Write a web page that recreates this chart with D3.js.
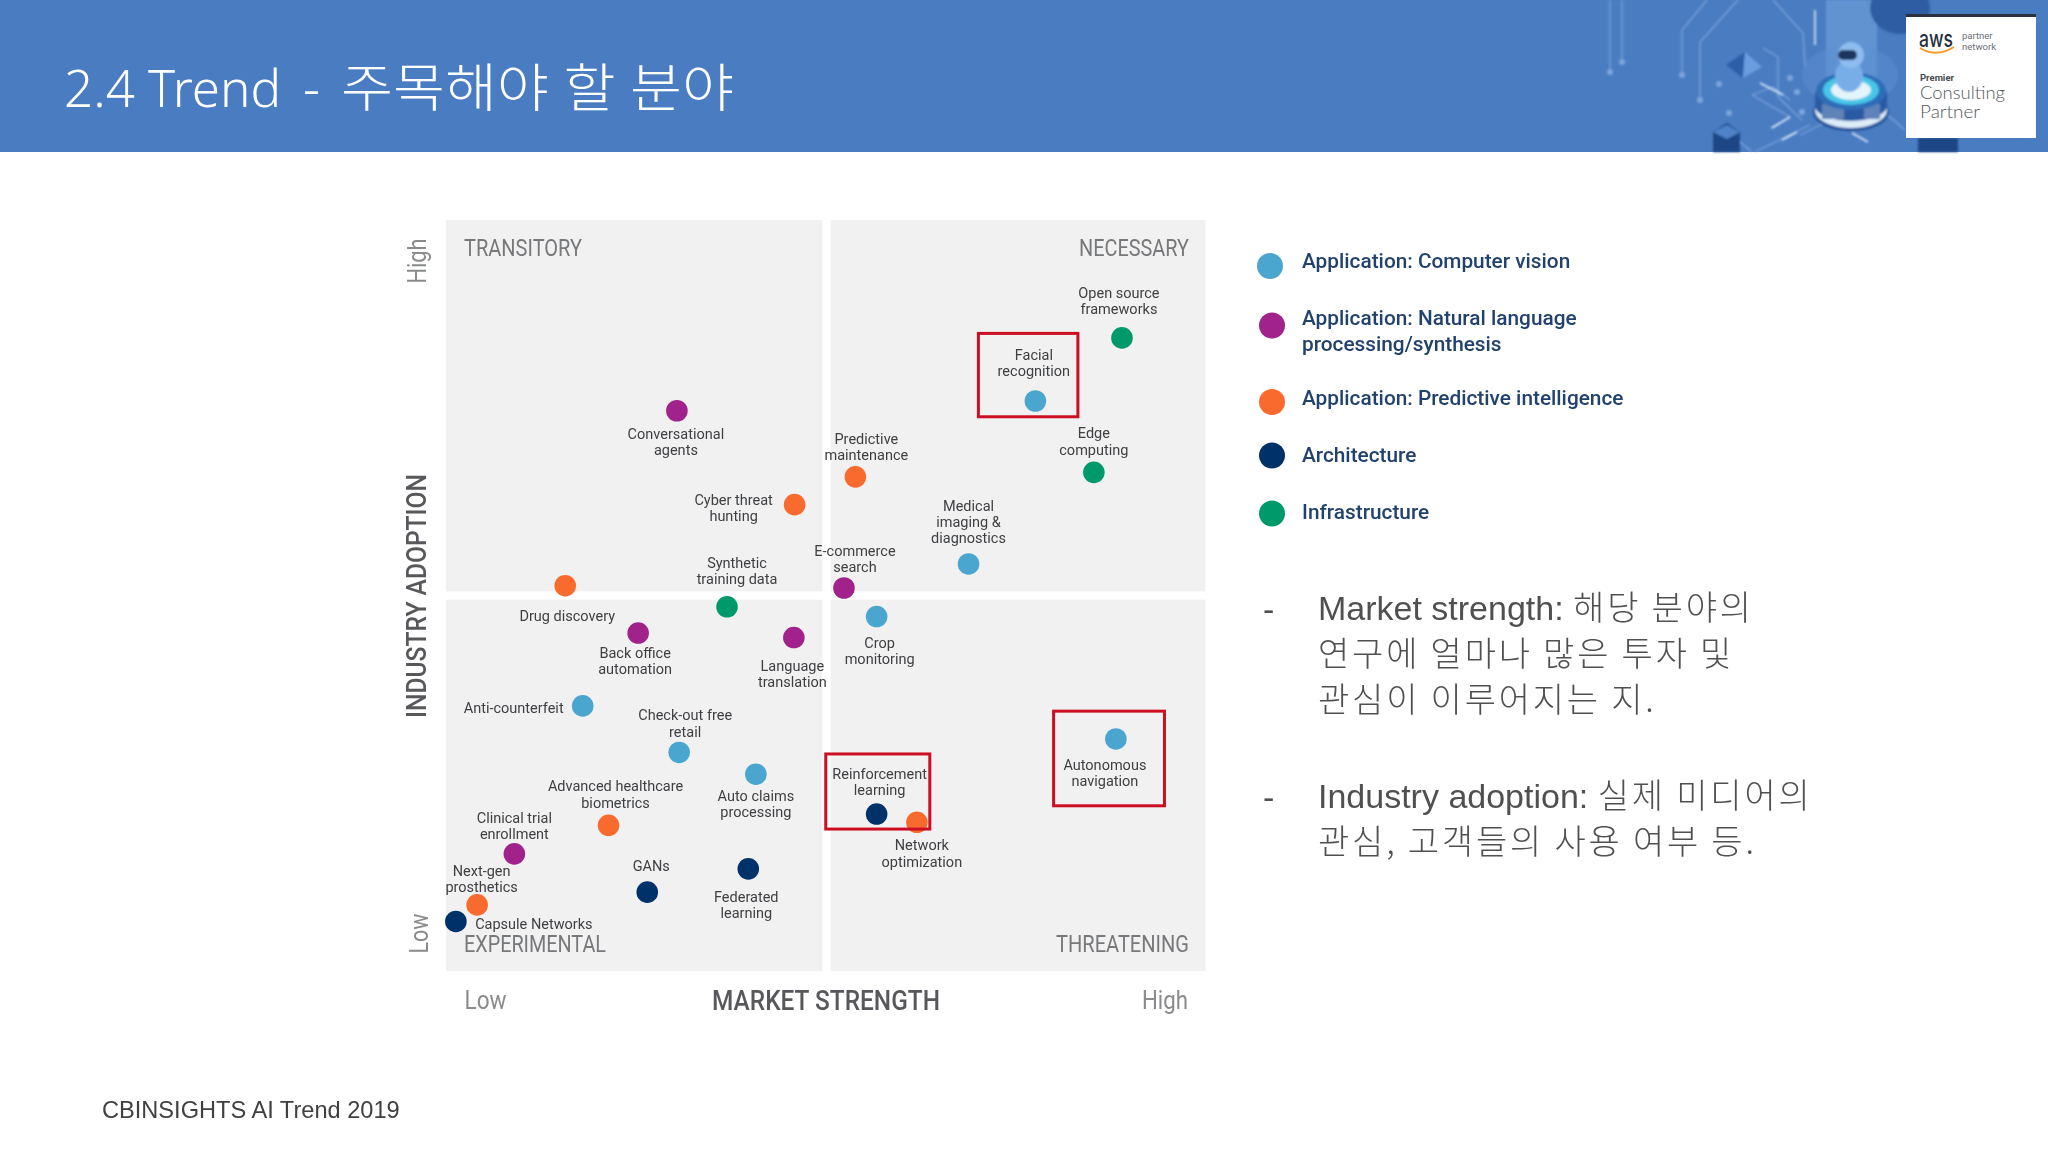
<!DOCTYPE html>
<html>
<head>
<meta charset="utf-8">
<script src="https://cdn.jsdelivr.net/npm/d3@7/dist/d3.min.js"></script>
<style>
    html, body { margin: 0; padding: 0; background: #fff; }
    svg { display: block; }
    text { font-family: Roboto, sans-serif; }
    .slide-text, .slide-text text { font-family: "Liberation Sans", "Noto Sans CJK KR", sans-serif; }
</style>
</head>
<body>
<div class="svg-container"></div>
<script>
// data (both axes run 0-100)
const techNames = ['Open source frameworks', 'Facial recognition', 'Conversational agents', 'Predictive maintenance', 'Edge computing',
    'Cyber threat hunting', 'Medical imaging & diagnostics', 'Drug discovery', 'E-commerce search', 'Synthetic training data',
    'Crop monitoring', 'Back office automation', 'Language translation', 'Anti-counterfeit', 'Check-out free retail',
    'Auto claims processing', 'Autonomous navigation', 'Reinforcement learning', 'Network optimization', 'Advanced healthcare biometrics',
    'Clinical trial enrollment', 'Federated learning', 'GANs', 'Next-gen prosthetics', 'Capsule Networks'];
const marketStrength = [89.0, 77.6, 30.4, 53.9, 85.3, 45.9, 68.8, 15.7, 52.4, 37.0, 56.7, 25.3, 45.8, 18.0, 30.7, 40.8, 88.2, 56.7, 62.0, 21.4, 9.0, 39.8, 26.5, 4.1, 1.3];
const industryAdoption = [84.3, 75.9, 74.6, 65.8, 66.4, 62.1, 54.2, 51.3, 51.0, 48.5, 47.2, 45.0, 44.4, 35.3, 29.1, 26.2, 30.9, 20.9, 19.8, 19.4, 15.6, 13.6, 10.5, 8.8, 6.6];
const techCategory = [4, 0, 1, 2, 4, 2, 0, 2, 1, 4, 0, 1, 1, 0, 0, 0, 0, 3, 2, 2, 1, 3, 3, 2, 3];

const categories = ['Application: Computer vision', 'Application: Natural language|processing/synthesis', 'Application: Predictive intelligence', 'Architecture', 'Infrastructure'];
const categoryColors = ['#4ba6cf', '#a0228a', '#f96a2f', '#04306a', '#059a6b'];

const quadrants = ['TRANSITORY', 'NECESSARY', 'EXPERIMENTAL', 'THREATENING'];
const axisEnds = ['Low', 'High'];
// red boxes [x0, x1, y0, y1] in data units
const highlightBoxes = [[70.1, 83.2, 84.9, 73.8], [50.0, 63.7, 28.9, 18.9], [80.0, 94.6, 34.6, 22.0]];

const notes = [
    ['Market strength: 해당 분야의', '연구에 얼마나 많은 투자 및', '관심이 이루어지는 지.'],
    ['Industry adoption: 실제 미디어의', '관심, 고객들의 사용 여부 등.']
];

// layout only: line breaks and label offsets from the dot, px
const labelLines = [['Open source', 'frameworks'], ['Facial', 'recognition'], ['Conversational', 'agents'], ['Predictive', 'maintenance'], ['Edge', 'computing'],
    ['Cyber threat', 'hunting'], ['Medical', 'imaging &', 'diagnostics'], ['Drug discovery'], ['E-commerce', 'search'], ['Synthetic', 'training data'],
    ['Crop', 'monitoring'], ['Back office', 'automation'], ['Language', 'translation'], ['Anti-counterfeit'], ['Check-out free', 'retail'],
    ['Auto claims', 'processing'], ['Autonomous', 'navigation'], ['Reinforcement', 'learning'], ['Network', 'optimization'], ['Advanced healthcare', 'biometrics'],
    ['Clinical trial', 'enrollment'], ['Federated', 'learning'], ['GANs'], ['Next-gen', 'prosthetics'], ['Capsule Networks']];
const labelOffsets = [[-3, -45], [-1.5, -46], [-1, 23], [11, -38], [0, -39], [-61, -5], [0, -58], [2, 30], [11, -37], [10, -44],
    [3, 26], [-3, 20], [-1.5, 28], [-69, 2], [6, -37], [0, 22], [-11, 26], [3, -40], [5, 23], [7, -39], [0, -36], [-2, 28], [4, -26], [4.5, -34], [78, 3]];

const viewBox_width = 2048,
    viewBox_height = 1152,
    plot = {left: 446, right: 1205.5, top: 220, bottom: 971};

const svg = d3.select('.svg-container').append('svg')
    .attr('width', viewBox_width)
    .attr('height', viewBox_height)
    .attr('viewBox', `0 0 ${viewBox_width} ${viewBox_height}`);

const defs = svg.append('defs');
defs.append('filter').attr('id', 'soft').append('feGaussianBlur').attr('stdDeviation', 0.45);
defs.append('filter').attr('id', 'softer').append('feGaussianBlur').attr('stdDeviation', 0.9);

const xScale = d3.scaleLinear().domain([0, 100]).range([plot.left, plot.right]),
    yScale = d3.scaleLinear().domain([0, 100]).range([plot.bottom, plot.top]);

// squeeze a text to the measured width, the original is a stretched bitmap
function fit(sel, length) {
    sel.attr('textLength', length).attr('lengthAdjust', 'spacingAndGlyphs');
}

drawHeader();

const g = svg.append('g').attr('class', 'figure').attr('filter', 'url(#soft)');

// quadrant panels, white cross in the middle
const gap = 0.55;
const panels = [[0, 50 - gap + 0.1, 50 + gap, 100], [50 + gap + 0.1, 100, 50 + gap, 100], [0, 50 - gap + 0.1, 0, 50 - gap], [50 + gap + 0.1, 100, 0, 50 - gap]];
g.selectAll('.panel').data(panels).enter().append('rect')
    .attr('class', 'panel')
    .attr('x', d => xScale(d[0]))
    .attr('y', d => yScale(d[3]))
    .attr('width', d => xScale(d[1]) - xScale(d[0]))
    .attr('height', d => yScale(d[2]) - yScale(d[3]))
    .attr('fill', '#f1f1f2');

// quadrant names
const quadrantPos = [[464, 256, 'start', 118], [1189, 256, 'end', 110], [464, 952, 'start', 142], [1189, 952, 'end', 133]];
g.selectAll('.quadrant').data(quadrants).enter().append('text')
    .attr('class', 'quadrant')
    .text(d => d)
    .attr('x', (d, i) => quadrantPos[i][0])
    .attr('y', (d, i) => quadrantPos[i][1])
    .attr('text-anchor', (d, i) => quadrantPos[i][2])
    .attr('fill', '#77787a')
    .style('font-size', '24px')
    .each(function (d, i) { fit(d3.select(this), quadrantPos[i][3]); });

// axes: only the two ends carry a tick label
const xAxis = g.append('g')
    .attr('class', 'x-axis')
    .attr('transform', `translate(0,${plot.bottom + 38})`)
    .call(d3.axisBottom(xScale).tickValues([0, 100]).tickSize(0).tickFormat((d, i) => axisEnds[i]));
xAxis.select('.domain').remove();
xAxis.selectAll('.tick text')
    .attr('y', 0).attr('dy', 0)
    .attr('x', (d, i) => i === 0 ? 18 : -18)
    .attr('text-anchor', (d, i) => i === 0 ? 'start' : 'end')
    .attr('fill', '#8a8b8d')
    .style('font-family', 'Roboto').style('font-size', '26px')
    .each(function (d, i) { fit(d3.select(this), i === 0 ? 42 : 46); });

const yAxis = g.append('g')
    .attr('class', 'y-axis')
    .attr('transform', `translate(${plot.left - 18},0)`)
    .call(d3.axisLeft(yScale).tickValues([0, 100]).tickSize(0).tickFormat((d, i) => axisEnds[i]));
yAxis.select('.domain').remove();
yAxis.selectAll('.tick text')
    .attr('x', 0).attr('y', 0).attr('dy', 0)
    .attr('transform', (d, i) => `translate(${i === 0 ? 0 : -2.5},0) rotate(-90) translate(${i === 0 ? 18 : -18},0)`)
    .attr('text-anchor', (d, i) => i === 0 ? 'start' : 'end')
    .attr('fill', '#8a8b8d')
    .style('font-family', 'Roboto').style('font-size', '26px')
    .each(function (d, i) { fit(d3.select(this), i === 0 ? 40 : 45); });

g.append('text')
    .text('MARKET STRENGTH')
    .attr('x', 826).attr('y', 1010)
    .attr('text-anchor', 'middle')
    .attr('fill', '#58595b')
    .style('font-size', '27px').style('font-weight', 500)
    .call(fit, 228);

g.append('text')
    .text('INDUSTRY ADOPTION')
    .attr('transform', 'translate(426,596) rotate(-90)')
    .attr('text-anchor', 'middle')
    .attr('fill', '#58595b')
    .style('font-size', '27px').style('font-weight', 500)
    .call(fit, 244);

// tech labels
const points = techNames.map((name, i) => ({name: name, x: marketStrength[i], y: industryAdoption[i], cat: techCategory[i], lines: labelLines[i], off: labelOffsets[i]}));

const labels = g.selectAll('.text-label').data(points).enter().append('text')
    .attr('class', 'text-label')
    .attr('text-anchor', 'middle')
    .attr('fill', '#3f4042')
    .style('font-size', '14.5px');
labels.selectAll('tspan').data(d => d.lines.map((line, k) => ({line: line, k: k, p: d}))).enter().append('tspan')
    .text(d => d.line)
    .attr('x', d => xScale(d.p.x) + d.p.off[0])
    .attr('y', d => yScale(d.p.y) + d.p.off[1] + 16.2 * d.k + 5);

// dots
g.selectAll('.dot').data(points).enter().append('circle')
    .attr('class', 'dot')
    .attr('cx', d => xScale(d.x))
    .attr('cy', d => yScale(d.y))
    .attr('r', 10.8)
    .attr('fill', d => categoryColors[d.cat]);

// red boxes
g.selectAll('.highlight').data(highlightBoxes).enter().append('rect')
    .attr('class', 'highlight')
    .attr('x', d => xScale(d[0]))
    .attr('y', d => yScale(d[2]))
    .attr('width', d => xScale(d[1]) - xScale(d[0]))
    .attr('height', d => yScale(d[3]) - yScale(d[2]))
    .attr('fill', 'none')
    .attr('stroke', '#cc1122')
    .attr('stroke-width', 3);

// legend
const legendY = [[266, 261], [325.5, 318], [402, 398], [455.5, 455], [513.5, 512]];
const legend = g.selectAll('.legend').data(categories).enter().append('g').attr('class', 'legend');
legend.append('circle')
    .attr('cx', (d, i) => i === 0 ? 1270 : 1272)
    .attr('cy', (d, i) => legendY[i][0])
    .attr('r', 13)
    .attr('fill', (d, i) => categoryColors[i]);
legend.append('text')
    .attr('fill', '#23426e')
    .style('font-size', '20.8px').style('font-weight', 500)
    .each(function (d, i) {
        const t = d3.select(this);
        d.split('|').forEach((line, k) => {
            t.append('tspan').text(line).attr('x', 1302).attr('y', legendY[i][1] + 7 + 26 * k);
        });
    });

// right hand notes, the hangul runs a bit wider and thinner than the latin
const noteTop = [619.5, 807.5];
const notesG = svg.append('g').attr('class', 'slide-text').attr('fill', '#505050');
notes.forEach((lines, n) => {
    notesG.append('text').text('-').attr('x', 1263).attr('y', noteTop[n] + 1).style('font-size', '34px');
    lines.forEach((line, k) => {
        const split = line.search(/[\uAC00-\uD7A3]/);
        const t = notesG.append('text').attr('x', 1318).attr('y', noteTop[n] + 46 * k).style('font-size', '34px');
        t.append('tspan').text(line.slice(0, split));
        t.append('tspan').text(line.slice(split))
            .style('font-family', '"Noto Sans CJK KR"')
            .style('font-weight', 300)
            .style('letter-spacing', '2.8px');
    });
});

notesG.append('text')
    .text('CBINSIGHTS AI Trend 2019')
    .attr('x', 102).attr('y', 1118)
    .attr('fill', '#404040')
    .style('font-size', '23.6px');

// header band, robot artwork and partner badge
function drawHeader() {
    const h = svg.append('g').attr('class', 'header');
    h.append('rect').attr('width', viewBox_width).attr('height', 152).attr('fill', '#4a7cc2');

    const titleParts = [['2.4 Trend', 64, 217], ['-', 303, 17], ['주목해야 할 분야', 341, 393]];
    h.selectAll('.title').data(titleParts).enter().append('text')
        .attr('class', 'title')
        .text(d => d[0])
        .attr('x', d => d[1]).attr('y', 107)
        .attr('fill', '#fff')
        .style('font-family', '"Noto Sans", "Noto Sans CJK KR", sans-serif')
        .style('font-weight', 300)
        .style('font-size', '52px')
        .each(function (d) { fit(d3.select(this), d[2]); });

    const art = h.append('g').attr('filter', 'url(#softer)');

    // circuit traces
    const traces = ['M1707,0 L1682,30 L1682,75', 'M1738,0 L1700,42 L1700,100', 'M1773,0 L1803,33 L1805,67', 'M1610,0 L1610,70', 'M1622,0 L1622,60',
        'M1763,48 L1778,57 L1778,97 L1802,120', 'M1752,95 L1773,87 L1790,100', 'M1752,95 L1790,117 L1770,128', 'M1740,142 L1752,152', 'M1755,152 L1810,125', 'M1800,135 L1870,100 L1905,130'];
    art.selectAll('.trace').data(traces).enter().append('path')
        .attr('class', 'trace')
        .attr('d', d => d)
        .attr('fill', 'none')
        .attr('stroke', '#8fb3e4')
        .attr('stroke-opacity', 0.7)
        .attr('stroke-width', 1.3);
    art.selectAll('.node').data([[1610, 72], [1622, 62], [1682, 75], [1700, 100], [1719, 84], [1729, 113], [1802, 112], [1790, 78], [1797, 92]]).enter().append('circle')
        .attr('class', 'node')
        .attr('cx', d => d[0]).attr('cy', d => d[1]).attr('r', 3)
        .attr('fill', '#7ea5dc');
    const streaks = ['M1760,83 L1783,95', 'M1772,128 L1790,117', 'M1782,140 L1797,132', 'M1852,133 L1868,142', 'M1815,10 L1815,45'];
    art.selectAll('.streak').data(streaks).enter().append('path')
        .attr('class', 'streak')
        .attr('d', d => d)
        .attr('stroke', '#dbe9fa')
        .attr('stroke-width', 1.6);

    // light column behind robot, disk top right
    art.append('rect').attr('x', 1826).attr('y', 0).attr('width', 51).attr('height', 80).attr('fill', '#7aaae2').attr('opacity', 0.5);
    art.append('ellipse').attr('cx', 1900).attr('cy', 8).attr('rx', 30).attr('ry', 26).attr('fill', '#2f5da3');
    art.append('ellipse').attr('cx', 1850).attr('cy', 75).attr('rx', 48).attr('ry', 30).attr('fill', '#5c90d4').attr('opacity', 0.5);

    // prism
    art.append('path').attr('d', 'M1726,65 L1745,52 L1743,78 Z').attr('fill', '#2c5fa8');
    art.append('path').attr('d', 'M1745,52 L1762,67 L1743,78 Z').attr('fill', '#6b9de0');

    // servers at the bottom
    art.append('path').attr('d', 'M1713,132 L1727,123 L1740,132 L1740,152 L1713,152 Z').attr('fill', '#1f4684');
    art.append('path').attr('d', 'M1713,132 L1727,125 L1740,132 L1727,139 Z').attr('fill', '#4f82c8');
    art.append('rect').attr('x', 1918).attr('y', 138).attr('width', 40).attr('height', 14).attr('fill', '#1f4684');

    // robot on platform
    art.append('ellipse').attr('cx', 1851).attr('cy', 112).attr('rx', 38).attr('ry', 19).attr('fill', '#1f4f96');
    art.append('ellipse').attr('cx', 1851).attr('cy', 110).attr('rx', 36).attr('ry', 18).attr('fill', '#dcedf8');
    art.append('path').attr('d', 'M1815,92 L1887,92 L1887,106 A36,15 0 0 1 1815,106 Z').attr('fill', '#2a5aa4');
    art.append('rect').attr('x', 1822).attr('y', 104).attr('width', 22).attr('height', 15).attr('fill', '#5f83b8');
    art.append('rect').attr('x', 1864).attr('y', 104).attr('width', 16).attr('height', 15).attr('fill', '#5f83b8');
    art.append('ellipse').attr('cx', 1851).attr('cy', 91).attr('rx', 35).attr('ry', 19).attr('fill', '#2f6db8');
    art.append('ellipse').attr('cx', 1851).attr('cy', 90).attr('rx', 28).attr('ry', 15).attr('fill', '#46c6e8');
    art.append('ellipse').attr('cx', 1851).attr('cy', 90).attr('rx', 20).attr('ry', 10).attr('fill', '#e4f4fb');
    art.append('ellipse').attr('cx', 1849).attr('cy', 76).attr('rx', 14).attr('ry', 16).attr('fill', '#78aee8');
    art.append('circle').attr('cx', 1851).attr('cy', 55).attr('r', 13).attr('fill', '#8dbcee');
    art.append('rect').attr('x', 1838).attr('y', 50).attr('width', 19).attr('height', 10).attr('rx', 5).attr('fill', '#1d3560');

    // partner badge
    h.append('rect').attr('x', 1906).attr('y', 14).attr('width', 130).attr('height', 124).attr('fill', '#fff');
    h.append('rect').attr('x', 1906).attr('y', 14).attr('width', 130).attr('height', 3).attr('fill', '#2b3140');
    h.append('text').text('aws').attr('x', 1919).attr('y', 47).attr('fill', '#232f3e')
        .style('font-family', 'Inter').style('font-size', '23px').style('font-weight', 500).call(fit, 34);
    h.append('path').attr('d', 'M1920,48 Q1936,58 1954,47').attr('fill', 'none').attr('stroke', '#f29a1f').attr('stroke-width', 2);
    h.selectAll('.pn').data(['partner', 'network']).enter().append('text')
        .attr('class', 'pn').text(d => d)
        .attr('x', 1962).attr('y', (d, i) => 39 + i * 10.5)
        .attr('fill', '#6c6f75').style('font-size', '9.5px');
    h.append('text').text('Premier').attr('x', 1920).attr('y', 81).attr('fill', '#4a4d52')
        .style('font-size', '9.5px').style('font-weight', 700);
    h.selectAll('.cp').data(['Consulting', 'Partner']).enter().append('text')
        .attr('class', 'cp').text(d => d)
        .attr('x', 1920).attr('y', (d, i) => 99 + i * 19)
        .attr('fill', '#55585d').style('font-family', 'Lato').style('font-weight', 300).style('font-size', '17px')
        .each(function (d, i) { fit(d3.select(this), i === 0 ? 85 : 60); });
}
</script>
</body>
</html>
